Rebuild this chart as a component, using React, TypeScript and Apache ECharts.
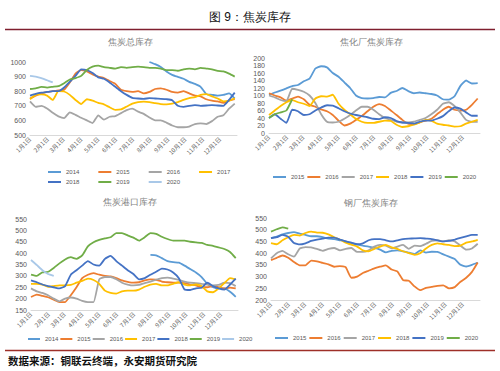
import React, { useEffect, useRef } from "react";
import * as echarts from "echarts";

// Sample days (day-of-year index, every 10 days)
const DAYS = [0, 10, 20, 30, 40, 50, 60, 70, 80, 90, 100, 110, 120, 130, 140, 150, 160, 170, 180, 190, 200, 210, 220, 230, 240, 250, 260, 270, 280, 290, 300, 310, 320, 330, 340, 350, 360];
const MONTH_LENGTHS = [31, 28, 31, 30, 31, 30, 31, 31, 30, 31, 30, 31];
const MONTH_START_DAYS = [0, 31, 59, 90, 120, 151, 181, 212, 243, 273, 304, 334];

const N = null;
const NULL21 = [N, N, N, N, N, N, N, N, N, N, N, N, N, N, N, N, N, N, N, N, N];
const NULL32 = [N, N, N, N, N, N, N, N, N, N, N, N, N, N, N, N, N, N, N, N, N, N, N, N, N, N, N, N, N, N, N, N];
const NULL33 = [N, ...NULL32];

// 焦炭总库存
const TOTAL_2014 = [...NULL21, 1000, 985, 965, 935, 912, 898, 885, 864, 850, 830, 780, 775, 770, 775, 785, 750];
const TOTAL_2015 = [750, 770, 785, 795, 800, 805, 810, 860, 920, 945, 935, 915, 900, 890, 870, 850, 810, 800, 795, 800, 785, 795, 815, 820, 810, 795, 790, 800, 785, 770, 765, 745, 735, 730, 720, 735, 745];
const TOTAL_2016 = [730, 693, 700, 682, 652, 628, 616, 655, 638, 618, 600, 582, 635, 605, 625, 630, 650, 670, 680, 660, 645, 620, 600, 600, 585, 565, 553, 553, 558, 575, 580, 575, 595, 625, 635, 680, 715];
const TOTAL_2017 = [745, 775, 778, 770, 740, 800, 798, 775, 740, 712, 745, 735, 720, 710, 690, 672, 675, 695, 715, 725, 728, 725, 718, 712, 710, 715, 725, 740, 752, 760, 775, 780, 765, 750, 730, 735, 752];
const TOTAL_2018 = [770, 782, 790, 795, 800, 800, 825, 865, 905, 950, 945, 925, 895, 885, 860, 830, 800, 775, 755, 750, 748, 752, 750, 748, 745, 738, 700, 693, 700, 705, 700, 702, 705, 702, 700, 740, 790];
const TOTAL_2019 = [815, 820, 830, 825, 830, 835, 855, 880, 890, 905, 945, 968, 975, 965, 960, 955, 965, 960, 965, 968, 965, 960, 960, 955, 945, 945, 940, 950, 955, 950, 960, 955, 950, 940, 935, 920, 900];
const TOTAL_2020 = [905, 900, 890, 875, 860, ...NULL32];

// 焦化厂焦炭库存
const COKING_2015 = [102, 108, 113, 119, 125, 128, 138, 145, 172, 178, 175, 160, 150, 135, 120, 100, 93, 92, 93, 96, 95, 107, 112, 120, 112, 106, 108, 106, 104, 100, 90, 89, 98, 125, 140, 132, 133];
const COKING_2016 = [106, 100, 95, 86, 92, 97, 90, 75, 70, 63, 58, 48, 33, 20, 25, 35, 45, 58, 70, 77, 72, 60, 48, 35, 25, 24, 28, 33, 38, 50, 62, 70, 62, 60, 62, 75, 92];
const COKING_2017 = [100, 95, 88, 85, 118, 115, 110, 100, 80, 50, 30, 28, 30, 38, 48, 60, 70, 70, 62, 50, 40, 35, 30, 28, 28, 30, 35, 40, 50, 62, 78, 82, 72, 55, 35, 30, 30];
const COKING_2018 = [48, 60, 72, 82, 88, 82, 78, 72, 92, 98, 97, 102, 78, 62, 50, 38, 30, 27, 27, 30, 33, 32, 22, 16, 18, 22, 28, 35, 33, 25, 22, 20, 17, 18, 25, 30, 35];
const COKING_2019 = [40, 50, 38, 27, 62, 58, 48, 50, 60, 68, 74, 73, 66, 58, 52, 48, 45, 42, 38, 37, 42, 40, 32, 28, 27, 25, 30, 33, 33, 38, 45, 58, 68, 65, 55, 46, 46];
const COKING_2020 = [40, 50, 55, 60, 90, ...NULL32];

// 焦炭港口库存
const PORT_2014 = [...NULL21, 392, 390, 378, 365, 360, 358, 345, 330, 315, 295, 265, 250, 245, 245, 230, 208];
const PORT_2015 = [207, 218, 212, 206, 195, 185, 185, 215, 250, 290, 305, 312, 305, 300, 298, 290, 280, 274, 270, 272, 280, 285, 283, 275, 272, 270, 270, 268, 262, 258, 250, 250, 255, 250, 245, 248, 245];
const PORT_2016 = [245, 232, 225, 215, 200, 188, 200, 205, 200, 190, 185, 185, 285, 295, 295, 285, 270, 262, 258, 260, 268, 275, 283, 290, 292, 288, 282, 275, 270, 268, 265, 262, 258, 260, 270, 268, 255];
const PORT_2017 = [265, 265, 262, 252, 255, 258, 258, 260, 270, 278, 288, 282, 265, 235, 225, 222, 232, 235, 235, 240, 252, 262, 265, 258, 258, 265, 272, 262, 258, 262, 255, 232, 228, 245, 268, 290, 285];
const PORT_2018 = [280, 272, 262, 255, 250, 245, 255, 305, 325, 345, 365, 350, 345, 375, 388, 365, 345, 325, 308, 285, 290, 305, 318, 332, 328, 315, 290, 240, 238, 245, 248, 270, 255, 245, 240, 262, 288];
const PORT_2019 = [306, 300, 315, 318, 335, 355, 372, 382, 375, 390, 430, 448, 458, 465, 470, 488, 488, 478, 468, 455, 470, 488, 485, 472, 462, 455, 455, 455, 450, 447, 445, 436, 432, 425, 418, 405, 378];
const PORT_2020 = [370, 348, 325, 308, 300, ...NULL32];

// 钢厂焦炭库存
const STEEL_2015 = [464, 471, 480, 486, 490, 483, 478, 472, 472, 468, 462, 460, 455, 450, 442, 437, 432, 428, 422, 415, 403, 410, 412, 408, 402, 396, 412, 402, 406, 405, 395, 385, 375, 350, 343, 350, 360];
const STEEL_2016 = [370, 380, 390, 380, 362, 348, 348, 368, 365, 358, 352, 342, 345, 340, 295, 300, 315, 325, 335, 342, 348, 330, 322, 285, 282, 258, 242, 252, 256, 260, 262, 250, 255, 278, 295, 320, 360];
const STEEL_2017 = [378, 400, 410, 395, 385, 420, 426, 425, 418, 410, 418, 422, 412, 418, 422, 405, 405, 412, 428, 435, 432, 420, 428, 435, 418, 432, 430, 440, 452, 455, 450, 455, 450, 432, 415, 420, 440];
const STEEL_2018 = [443, 438, 455, 468, 478, 475, 486, 492, 488, 487, 480, 468, 458, 445, 436, 428, 412, 408, 418, 428, 435, 425, 418, 408, 400, 393, 400, 420, 435, 442, 438, 435, 430, 432, 445, 450, 457];
const STEEL_2019 = [464, 468, 478, 470, 443, 437, 442, 452, 458, 462, 466, 466, 458, 450, 445, 438, 442, 455, 460, 460, 455, 450, 455, 460, 462, 463, 464, 462, 460, 455, 450, 452, 458, 465, 472, 478, 478];
const STEEL_2020 = [492, 502, 510, 505, ...NULL33];

const YEARS_A = ["2014", "2015", "2016", "2017", "2018", "2019", "2020"];
const YEARS_B = ["2015", "2016", "2017", "2018", "2019", "2020"];
const COLORS_A = ["#5B9BD5", "#ED7D31", "#A5A5A5", "#FFC000", "#4472C4", "#70AD47", "#A9C8E8"];
const COLORS_B = ["#5B9BD5", "#ED7D31", "#A5A5A5", "#FFC000", "#4472C4", "#70AD47"];

const TITLES = ["焦炭总库存", "焦化厂焦炭库存", "焦炭港口库存", "钢厂焦炭库存"];
const MAIN_TITLE = "图 9：焦炭库存";
const SOURCE = "数据来源：铜联云终端，永安期货研究院";

const DATE_CATEGORIES: string[] = [];
MONTH_LENGTHS.forEach((len, m) => {
  for (let d = 1; d <= len; d++) DATE_CATEGORIES.push(`${m + 1}月${d}日`);
});

const PANELS = [
  { prefix: "a", years: YEARS_A, colors: COLORS_A, data: [TOTAL_2014, TOTAL_2015, TOTAL_2016, TOTAL_2017, TOTAL_2018, TOTAL_2019, TOTAL_2020], min: 500, max: 1000, interval: 100 },
  { prefix: "b", years: YEARS_B, colors: COLORS_B, data: [COKING_2015, COKING_2016, COKING_2017, COKING_2018, COKING_2019, COKING_2020], min: 0, max: 200, interval: 20 },
  { prefix: "c", years: YEARS_A, colors: COLORS_A, data: [PORT_2014, PORT_2015, PORT_2016, PORT_2017, PORT_2018, PORT_2019, PORT_2020], min: 150, max: 550, interval: 50 },
  { prefix: "d", years: YEARS_B, colors: COLORS_B, data: [STEEL_2015, STEEL_2016, STEEL_2017, STEEL_2018, STEEL_2019, STEEL_2020], min: 200, max: 550, interval: 50 },
];

const GRIDS = [
  { left: 30, top: 62, width: 207, height: 73 },
  { left: 269, top: 58, width: 211, height: 75 },
  { left: 31, top: 219, width: 207, height: 91 },
  { left: 271, top: 218, width: 209, height: 82 },
];

const TITLE_POS = [
  [130, 42],
  [371, 42],
  [130, 202],
  [371, 203],
];

const FONT = "'Liberation Sans', 'Noto Sans CJK SC', sans-serif";
const CJK = "'Noto Sans CJK SC', sans-serif";

export default function App() {
  const ref = useRef<HTMLDivElement>(null);
  useEffect(() => {
    if (!ref.current) return;
    const chart = echarts.init(ref.current, null, { renderer: "svg" });

    const series: any[] = [];
    PANELS.forEach((p, gi) => {
      p.years.forEach((y, si) => {
        const vals = p.data[si];
        const color = p.colors[si];
        series.push({
          type: "line",
          name: `${p.prefix}|${y}`,
          xAxisIndex: gi,
          yAxisIndex: gi,
          data: DAYS.map((d, i) => [d, vals[i]]).filter((pt) => pt[1] !== null),
          symbol: "none",
          showSymbol: false,
          smooth: 0.15,
          silent: true,
          lineStyle: { width: 1.8, color },
          itemStyle: { color },
          z: 2 + si,
        });
      });
    });

    const legendBase = {
      icon: "rect",
      itemHeight: 2,
      itemWidth: 13,
      padding: 0,
      selectedMode: false,
      formatter: (n: string) => n.split("|")[1],
      textStyle: { fontSize: 6, color: "#595959", fontFamily: FONT },
    };
    const names = (p: any, idx: number[]) => idx.map((i) => `${p.prefix}|${p.years[i]}`);

    const option: any = {
      animation: false,
      backgroundColor: "#ffffff",
      grid: GRIDS.map((g) => ({ ...g, containLabel: false })),
      xAxis: GRIDS.map((_, gi) => ({
        type: "category",
        gridIndex: gi,
        data: DATE_CATEGORIES,
        boundaryGap: false,
        axisLine: { show: true, lineStyle: { color: "#D9D9D9", width: 1 } },
        axisTick: { show: false },
        splitLine: { show: false },
        axisLabel: {
          interval: (index: number) => MONTH_START_DAYS.includes(index),
          rotate: 45,
          fontSize: 6,
          color: "#595959",
          margin: 3,
          fontFamily: CJK,
        },
      })),
      yAxis: PANELS.map((p, gi) => ({
        type: "value",
        gridIndex: gi,
        min: p.min,
        max: p.max,
        interval: p.interval,
        axisLine: { show: false },
        axisTick: { show: false },
        splitLine: { show: false },
        axisLabel: { fontSize: 7, color: "#595959", margin: 4, fontFamily: FONT, formatter: (v: number) => String(v) },
      })),
      legend: [
        { ...legendBase, data: names(PANELS[0], [0, 1, 2, 3]), left: 48, top: 169, itemGap: 19 },
        { ...legendBase, data: names(PANELS[0], [4, 5, 6]), left: 48, top: 179, itemGap: 19 },
        { ...legendBase, data: names(PANELS[1], [0, 1, 2, 3, 4, 5]), left: 273, top: 174, itemGap: 3 },
        { ...legendBase, itemWidth: 12, data: names(PANELS[2], [0, 1, 2, 3, 4, 5, 6]), left: 28, top: 336, itemGap: 2 },
        { ...legendBase, data: names(PANELS[3], [0, 1, 2, 3, 4, 5]), left: 275, top: 335, itemGap: 3 },
      ],
      series,
      graphic: [
        {
          type: "text",
          x: 250,
          y: 17,
          style: { text: MAIN_TITLE, fontSize: 12, fill: "#111", font: `12px ${CJK}`, align: "center", verticalAlign: "middle" },
        },
        { type: "line", shape: { x1: 5, y1: 29.5, x2: 495, y2: 29.5 }, style: { stroke: "#7F1F2E", lineWidth: 1.5 } },
        { type: "line", shape: { x1: 5, y1: 350.5, x2: 495, y2: 350.5 }, style: { stroke: "#9E2F28", lineWidth: 1.5 } },
        {
          type: "text",
          x: 8,
          y: 360,
          style: { text: SOURCE, fill: "#111", font: `bold 10.5px ${CJK}`, align: "left", verticalAlign: "middle" },
        },
        ...TITLES.map((t, i) => ({
          type: "text",
          x: TITLE_POS[i][0],
          y: TITLE_POS[i][1],
          style: { text: t, fontSize: 9, fill: "#7F7F7F", font: `9px ${CJK}`, align: "center", verticalAlign: "middle" },
        })),
      ],
    };

    chart.setOption(option);
    return () => chart.dispose();
  }, []);

  return (
    <div
      ref={ref}
      style={{ position: "absolute", left: 0, top: 0, width: 500, height: 371, background: "#fff" }}
    />
  );
}
